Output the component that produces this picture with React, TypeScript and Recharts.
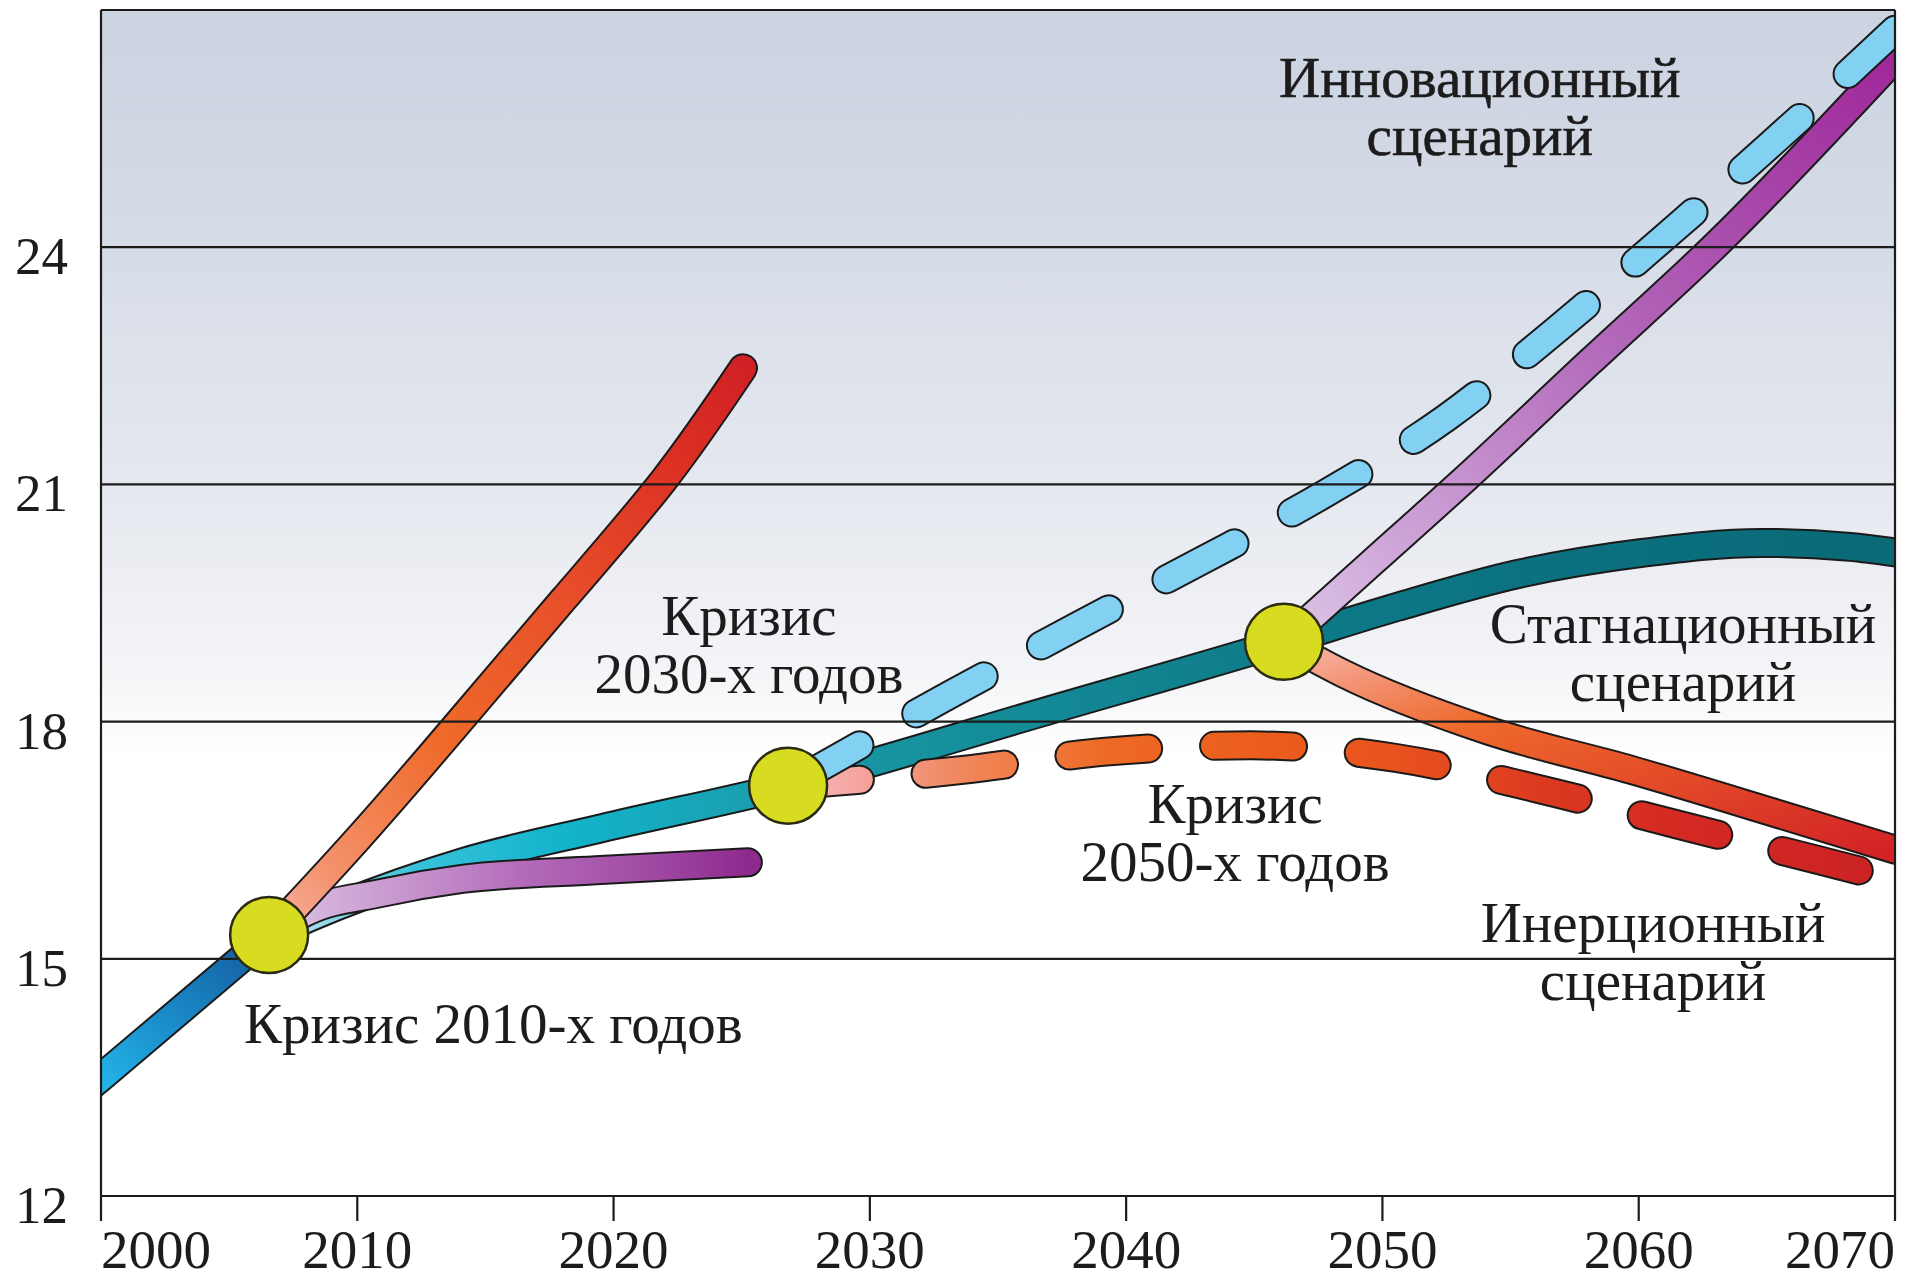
import React from 'react';
import {
  ComposedChart,
  Line,
  Scatter,
  XAxis,
  YAxis,
  CartesianGrid,
  ReferenceLine,
  ReferenceDot,
} from 'recharts';

// axis ticks
const years = [2000, 2010, 2020, 2030, 2040, 2050, 2060, 2070];
const levels = [12, 15, 18, 21, 24, 27];
const gridLevels = [15, 18, 21, 24, 27];

// trend up to the 2010s crisis
const baseLine = [
  { year: 1999, value: 13.23 },
  { year: 2000, value: 13.5 },
  { year: 2006.56, value: 15.3 },
];

// branch that broke away upward (red)
const redBranch2010 = [
  { year: 2006.56, value: 15.3 },
  { year: 2010.11, value: 16.55 },
  { year: 2014.01, value: 18.01 },
  { year: 2018.03, value: 19.54 },
  { year: 2021.97, value: 21.06 },
  { year: 2025.05, value: 22.47 },
];

// branch that flattened (purple)
const purpleBranch2010 = [
  { year: 2006.56, value: 15.3 },
  { year: 2008.0, value: 15.59 },
  { year: 2010.89, value: 15.83 },
  { year: 2014.09, value: 16.01 },
  { year: 2019.31, value: 16.12 },
  { year: 2025.24, value: 16.22 },
];

// main line -> stagnation scenario
const mainLine = [
  { year: 2006.56, value: 15.3 },
  { year: 2009.33, value: 15.68 },
  { year: 2014.09, value: 16.22 },
  { year: 2019.51, value: 16.65 },
  { year: 2026.81, value: 17.19 },
  { year: 2036.64, value: 18.11 },
  { year: 2046.16, value: 19.01 },
  { year: 2050.57, value: 19.45 },
  { year: 2055.33, value: 19.87 },
  { year: 2060.05, value: 20.13 },
  { year: 2064.81, value: 20.26 },
  { year: 2068.24, value: 20.21 },
  { year: 2070, value: 20.14 },
];

// innovation scenario after the 2050s crisis (solid purple)
const innovationLine = [
  { year: 2046.16, value: 19.01 },
  { year: 2049.59, value: 20.01 },
  { year: 2052.99, value: 21.0 },
  { year: 2058.1, value: 22.55 },
  { year: 2063.05, value: 24.04 },
  { year: 2070, value: 26.39 },
];

// innovation path after the 2030s crisis (dashed light blue)
const innovationDashed = [
  { year: 2026.81, value: 17.19 },
  { year: 2033.13, value: 18.34 },
  { year: 2038.04, value: 19.2 },
  { year: 2042.92, value: 20.03 },
  { year: 2047.8, value: 20.89 },
  { year: 2052.48, value: 21.84 },
  { year: 2056.77, value: 22.95 },
  { year: 2060.99, value: 24.12 },
  { year: 2065.04, value: 25.27 },
  { year: 2070, value: 26.75 },
];

// inertial scenario after the 2050s crisis (solid)
const inertialLine = [
  { year: 2046.16, value: 19.01 },
  { year: 2048.46, value: 18.61 },
  { year: 2054.08, value: 17.89 },
  { year: 2059.7, value: 17.39 },
  { year: 2065.36, value: 16.84 },
  { year: 2070, value: 16.38 },
];

// inertial path after the 2030s crisis (dashed)
const inertialDashed = [
  { year: 2026.81, value: 17.19 },
  { year: 2033.63, value: 17.39 },
  { year: 2039.21, value: 17.62 },
  { year: 2044.87, value: 17.7 },
  { year: 2050.53, value: 17.54 },
  { year: 2056.07, value: 17.15 },
  { year: 2061.49, value: 16.7 },
  { year: 2066.99, value: 16.25 },
  { year: 2070, value: 16.0 },
];

// crisis points
const crisisPoints = [
  { year: 2006.56, value: 15.3 },
  { year: 2026.81, value: 17.19 },
  { year: 2046.16, value: 19.01 },
];

// annotation anchors
const labelTexts = [
  ['Кризис 2010-х годов'],
  ['Кризис', '2030-х годов'],
  ['Кризис', '2050-х годов'],
  ['Инновационный', 'сценарий'],
  ['Стагнационный', 'сценарий'],
  ['Инерционный', 'сценарий'],
];
const labelYears = [2005.58, 2025.28, 2044.25, 2053.8, 2061.73, 2060.56];
const labelValues = [13.94, 19.1, 16.72, 25.9, 18.99, 15.21];

const SERIF = "'Liberation Serif', 'Times New Roman', serif";
const INK = '#1c1c1c';

const tracks: any[] = [
  { id: 'base', data: baseLine, stroke: 'url(#gBase)' },
  { id: 'main', data: mainLine, stroke: 'url(#gTeal)' },
  { id: 'purpleLow', data: purpleBranch2010, stroke: 'url(#gPurpleLow)' },
  { id: 'red', data: redBranch2010, stroke: 'url(#gRed)', curve: 'natural' },
  { id: 'innov', data: innovationLine, stroke: 'url(#gPurpleUp)' },
  { id: 'inert', data: inertialLine, stroke: 'url(#gInert)' },
  { id: 'inertDash', data: inertialDashed, stroke: 'url(#gInertDash)', dash: '79 66', offset: 7 },
  { id: 'innovDash', data: innovationDashed, stroke: '#82d0f2', dash: '77 65', offset: -5 },
];

const YearTick = (props: any) => {
  const { x, y, payload } = props;
  const v = payload.value;
  const anchor = v === years[0] ? 'start' : v === years[years.length - 1] ? 'end' : 'middle';
  return (
    <text x={x} y={y} dy={45} textAnchor={anchor} fontSize={55} fontFamily={SERIF} fill={INK}>
      {v}
    </text>
  );
};

const LevelTick = (props: any) => {
  const { x, y, payload } = props;
  if (payload.value === 27) return <g />;
  return (
    <text x={x - 33} y={y} dy={27} textAnchor="end" fontSize={53} fontFamily={SERIF} fill={INK}>
      {payload.value}
    </text>
  );
};

const CrisisMarker = (props: any) => (
  <ellipse cx={props.cx} cy={props.cy} rx={39} ry={38} fill="#d7dc21" stroke="#2b2b12" strokeWidth={2.5} />
);

const makeLabel = (lines: string[], anchor: string, heavy: boolean) => (p: any) => (
  <text
    x={p.cx}
    y={p.cy}
    textAnchor={anchor}
    fontSize={57}
    fontFamily={SERIF}
    fill={INK}
    stroke={heavy ? INK : 'none'}
    strokeWidth={heavy ? 0.6 : 0}
  >
    {lines.map((l, i) => (
      <tspan key={i} x={p.cx} dy={i === 0 ? 0 : 58}>
        {l}
      </tspan>
    ))}
  </text>
);

export default function App() {
  return (
    <div style={{ position: 'absolute', left: 0, top: 0, width: 1905, height: 1279, background: '#fff' }}>
      <ComposedChart width={1905} height={1279} margin={{ top: 10, right: 10, bottom: 0, left: 0 }}>
        <defs>
          <linearGradient id="bgFade" x1="0" y1="0" x2="0" y2="1">
            <stop offset="0%" stopColor="#cbd3e1" />
            <stop offset="20%" stopColor="#d6dce7" />
            <stop offset="40%" stopColor="#e5e8ef" />
            <stop offset="55%" stopColor="#f3f4f7" />
            <stop offset="63%" stopColor="#ffffff" />
            <stop offset="100%" stopColor="#ffffff" />
          </linearGradient>
          <linearGradient id="gBase" x1="0" y1="1" x2="1" y2="0">
            <stop offset="0%" stopColor="#26bff0" />
            <stop offset="45%" stopColor="#1a8fcc" />
            <stop offset="100%" stopColor="#15579a" />
          </linearGradient>
          <linearGradient id="gTeal" x1="0" y1="0" x2="1" y2="0">
            <stop offset="0%" stopColor="#bfe4ee" />
            <stop offset="4%" stopColor="#8ed6e6" />
            <stop offset="9%" stopColor="#38c2da" />
            <stop offset="18%" stopColor="#12b4cc" />
            <stop offset="26%" stopColor="#18a6b8" />
            <stop offset="32%" stopColor="#1a9aa8" />
            <stop offset="47%" stopColor="#138a96" />
            <stop offset="62%" stopColor="#0e7c88" />
            <stop offset="79%" stopColor="#0b7080" />
            <stop offset="100%" stopColor="#0a6a76" />
          </linearGradient>
          <linearGradient id="gRed" x1="0" y1="1" x2="1" y2="0">
            <stop offset="0%" stopColor="#f7b3a6" />
            <stop offset="12%" stopColor="#f4926c" />
            <stop offset="35%" stopColor="#ef6a2a" />
            <stop offset="60%" stopColor="#e8502a" />
            <stop offset="85%" stopColor="#dc3024" />
            <stop offset="100%" stopColor="#d02224" />
          </linearGradient>
          <linearGradient id="gPurpleLow" x1="0" y1="0" x2="1" y2="0">
            <stop offset="0%" stopColor="#ddc6e4" />
            <stop offset="25%" stopColor="#c99ad0" />
            <stop offset="55%" stopColor="#b268b8" />
            <stop offset="80%" stopColor="#a04aa4" />
            <stop offset="100%" stopColor="#8e2a8e" />
          </linearGradient>
          <linearGradient id="gPurpleUp" x1="0" y1="1" x2="1" y2="0">
            <stop offset="0%" stopColor="#dcc6e6" />
            <stop offset="25%" stopColor="#c898d2" />
            <stop offset="50%" stopColor="#b46cbc" />
            <stop offset="75%" stopColor="#a848aa" />
            <stop offset="100%" stopColor="#a0289a" />
          </linearGradient>
          <linearGradient id="gInert" x1="0" y1="0" x2="1" y2="1">
            <stop offset="0%" stopColor="#f8bcb0" />
            <stop offset="15%" stopColor="#f39476" />
            <stop offset="35%" stopColor="#ee6a2c" />
            <stop offset="65%" stopColor="#e24a28" />
            <stop offset="100%" stopColor="#d22226" />
          </linearGradient>
          <linearGradient id="gInertDash" x1="0" y1="0" x2="1" y2="0">
            <stop offset="0%" stopColor="#f6b8c4" />
            <stop offset="7%" stopColor="#f4a39a" />
            <stop offset="16%" stopColor="#f0865a" />
            <stop offset="29%" stopColor="#ee6a24" />
            <stop offset="42%" stopColor="#ec5e1c" />
            <stop offset="55%" stopColor="#e8521e" />
            <stop offset="68%" stopColor="#dc3a20" />
            <stop offset="80%" stopColor="#d42a22" />
            <stop offset="100%" stopColor="#ca2224" />
          </linearGradient>
        </defs>

        <CartesianGrid horizontal={false} vertical={false} fill="url(#bgFade)" fillOpacity={1} stroke="none" />

        <XAxis
          type="number"
          dataKey="year"
          domain={[2000, 2070]}
          ticks={years}
          allowDataOverflow
          height={83}
          tickSize={25}
          tickMargin={2}
          axisLine={{ stroke: INK, strokeWidth: 2.2 }}
          tickLine={{ stroke: INK, strokeWidth: 2.2 }}
          tick={<YearTick />}
          interval={0}
        />
        <YAxis
          type="number"
          domain={[12, 27]}
          ticks={levels}
          allowDataOverflow
          width={101}
          tickSize={0}
          tickMargin={0}
          axisLine={{ stroke: INK, strokeWidth: 2.2 }}
          tickLine={false}
          tick={<LevelTick />}
          interval={0}
        />

        {tracks.flatMap((t) => [
          <Line
            key={t.id + '-edge'}
            data={t.data}
            dataKey="value"
            type={t.curve || 'monotone'}
            stroke="#1a1a1a"
            strokeWidth={30}
            strokeLinecap="round"
            strokeLinejoin="round"
            strokeDasharray={t.dash}
            strokeDashoffset={t.offset}
            dot={false}
            activeDot={false}
            isAnimationActive={false}
            legendType="none"
          />,
          <Line
            key={t.id + '-fill'}
            data={t.data}
            dataKey="value"
            type={t.curve || 'monotone'}
            stroke={t.stroke}
            strokeWidth={26}
            strokeLinecap="round"
            strokeLinejoin="round"
            strokeDasharray={t.dash}
            strokeDashoffset={t.offset}
            dot={false}
            activeDot={false}
            isAnimationActive={false}
            legendType="none"
          />,
        ])}

        {gridLevels.map((lv) => (
          <ReferenceLine key={'g' + lv} y={lv} stroke={INK} strokeWidth={2.2} zIndex={450} />
        ))}
        <ReferenceLine x={2070} stroke={INK} strokeWidth={2.2} zIndex={450} />

        <Scatter data={crisisPoints} dataKey="value" shape={CrisisMarker} isAnimationActive={false} zIndex={600} />

        {labelTexts.map((lines, i) => (
          <ReferenceDot
            key={'lbl' + i}
            x={labelYears[i]}
            y={labelValues[i]}
            r={1}
            zIndex={700}
            shape={makeLabel(lines, i === 0 ? 'start' : 'middle', i === 3)}
          />
        ))}
      </ComposedChart>
    </div>
  );
}
